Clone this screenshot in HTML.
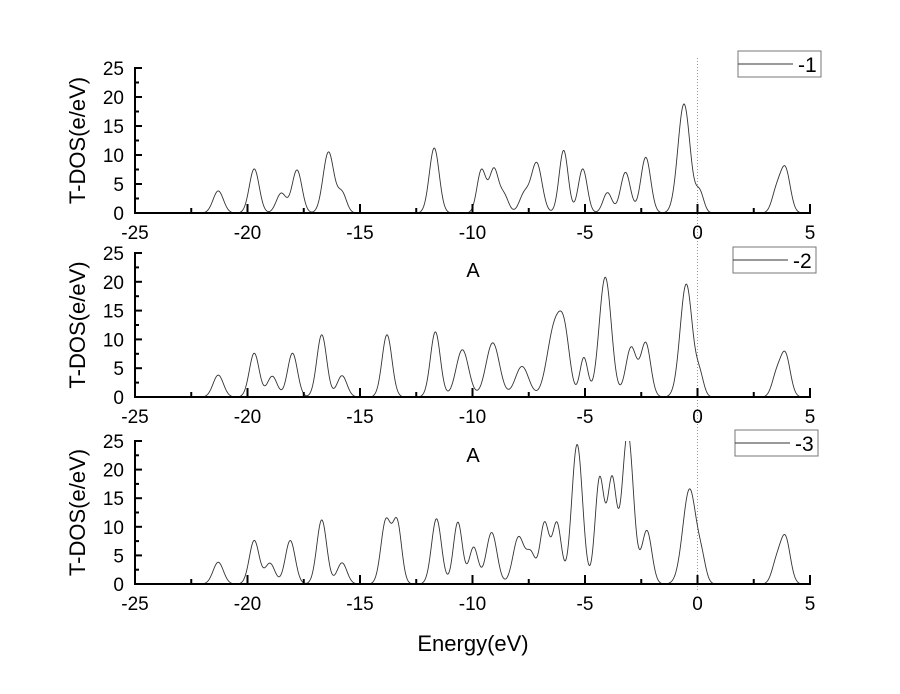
<!DOCTYPE html>
<html><head><meta charset="utf-8"><style>
body{margin:0;background:#fff}
svg text{font-family:"Liberation Sans",Arial,sans-serif;fill:#000}
</style></head><body>
<svg id="chart" width="900" height="689" viewBox="0 0 900 689" xmlns="http://www.w3.org/2000/svg">
<rect x="0" y="0" width="900" height="689" fill="#fff"/>
<g id="layer"></g>
</svg>
<script>
const xTicks=[-25,-20,-15,-10,-5,0,5];
const yTicks=[0,5,10,15,20,25];
const legendLabels=["-1","-2","-3"];
// peak centers (eV), heights (e/eV), widths (eV) for each panel
const p1Centers=[-21.3,-19.7,-18.5,-17.8,-16.4,-15.8,-11.7,-9.6,-9.05,-8.6,-7.7,-7.15,-5.95,-5.1,-4.0,-3.2,-2.3,-0.6,0.1,3.5,3.9];
const p1Heights=[3.8,7.6,3.4,7.4,10.5,3.4,11.2,7.4,7.4,3.0,3.2,8.6,10.8,7.6,3.5,7.0,9.6,18.8,3.5,3.5,7.6];
const p1Widths=[0.23,0.22,0.22,0.22,0.24,0.2,0.22,0.2,0.2,0.2,0.22,0.24,0.2,0.2,0.2,0.22,0.22,0.27,0.18,0.2,0.22];
const p2Centers=[-21.3,-19.7,-18.9,-18.0,-16.7,-15.8,-13.8,-11.65,-10.45,-9.1,-7.8,-6.35,-5.9,-5.05,-4.1,-2.95,-2.3,-0.5,0.1,3.5,3.9];
const p2Heights=[3.8,7.6,3.6,7.6,10.8,3.7,10.8,11.3,8.2,9.4,5.3,12.0,8.4,6.8,20.8,8.6,9.3,19.6,3.5,3.5,7.4];
const p2Widths=[0.23,0.22,0.22,0.22,0.22,0.22,0.22,0.22,0.28,0.3,0.3,0.33,0.24,0.18,0.27,0.24,0.22,0.27,0.18,0.2,0.22];
const p3Centers=[-21.3,-19.7,-19.0,-18.1,-16.7,-15.8,-13.85,-13.35,-11.6,-10.65,-9.95,-9.15,-7.95,-7.4,-6.8,-6.25,-5.35,-4.35,-3.8,-3.1,-2.25,-0.35,0.2,3.5,3.9];
const p3Heights=[3.8,7.6,3.6,7.6,11.2,3.7,11.0,10.6,11.4,10.8,6.4,9.0,8.2,5.0,10.6,10.6,24.4,18.4,18.0,26.5,9.3,16.6,3.2,3.5,8.1];
const p3Widths=[0.23,0.22,0.22,0.22,0.22,0.22,0.22,0.2,0.22,0.2,0.2,0.24,0.25,0.2,0.2,0.2,0.24,0.2,0.2,0.25,0.22,0.3,0.18,0.2,0.22];

const panels=[
 {c:p1Centers,h:p1Heights,w:p1Widths,top:68,bot:213,leg:[738,51]},
 {c:p2Centers,h:p2Heights,w:p2Widths,top:253,bot:397,leg:[733,247]},
 {c:p3Centers,h:p3Heights,w:p3Widths,top:441,bot:584,leg:[735,430]}
];
const NS="http://www.w3.org/2000/svg";
const layer=document.getElementById('layer');
const X0=135,X1=810,xMin=-25,xMax=5;
function xs(v){return X0+(v-xMin)/(xMax-xMin)*(X1-X0);}
function mk(t,a,parent){const e=document.createElementNS(NS,t);for(const k in a)e.setAttribute(k,a[k]);(parent||layer).appendChild(e);return e;}

const fl=mk('line',{x1:xs(0),x2:xs(0),y1:58,y2:592,stroke:'#999','stroke-width':1,'stroke-dasharray':'1,2'});



panels.forEach((p,i)=>{
 const ys=v=>p.bot-(v/25)*(p.bot-p.top);
 const g=mk('g',{});
 
 
 const cp=mk('clipPath',{id:'cp'+i},g);
 mk('rect',{x:X0,y:p.top,width:X1-X0,height:p.bot-p.top},cp);
 let d='';
 for(let E=xMin;E<=xMax+1e-9;E+=0.02){
  let s=0;
  for(let k=0;k<p.c.length;k++){const z=(E-p.c[k])/p.w[k];s+=p.h[k]*Math.exp(-0.5*z*z);}
  d+=(d?'L':'M')+xs(E).toFixed(2)+','+ys(s).toFixed(2);
 }
 const path=mk('path',{d:d,fill:'none',stroke:'#333','stroke-width':0.9,'clip-path':'url(#cp'+i+')'},g);
 
 
 const xa=mk('line',{x1:X0-1,x2:X1+1,y1:p.bot,y2:p.bot,stroke:'#000','stroke-width':2},g);
 
 
 const ya=mk('line',{x1:X0,x2:X0,y1:p.top-1,y2:p.bot+1,stroke:'#000','stroke-width':2},g);
 
 
 for(let j=0;j<xTicks.length;j++){
  const v=xTicks[j];
  mk('line',{x1:xs(v),x2:xs(v),y1:p.bot,y2:p.bot-9,stroke:'#000','stroke-width':2},g);
  if(j<xTicks.length-1) mk('line',{x1:xs(v+2.5),x2:xs(v+2.5),y1:p.bot,y2:p.bot-5,stroke:'#000','stroke-width':2},g);
  const t=mk('text',{x:xs(v),y:p.bot+26,'text-anchor':'middle','font-size':19},g);
  t.textContent=v;
  
  
 }
 for(let j=0;j<yTicks.length;j++){
  const v=yTicks[j];
  mk('line',{x1:X0,x2:X0+7,y1:ys(v),y2:ys(v),stroke:'#000','stroke-width':2},g);
  if(j<yTicks.length-1) mk('line',{x1:X0,x2:X0+4,y1:ys(v+2.5),y2:ys(v+2.5),stroke:'#000','stroke-width':2},g);
  const t=mk('text',{x:124,y:ys(v)+7,'text-anchor':'end','font-size':19},g);
  t.textContent=v;
  
  
 }
 const yt=mk('text',{x:0,y:0,'text-anchor':'middle','font-size':22,transform:'translate(85,'+((p.top+p.bot)/2)+') rotate(-90)'},g);
 yt.textContent='T-DOS(e/eV)';
 
 
 const lg=mk('g',{},g);
 
 
 const lx=p.leg[0],ly=p.leg[1];
 mk('rect',{x:lx,y:ly,width:83,height:26,fill:'#fff',stroke:'#777','stroke-width':1},lg);
 mk('line',{x1:lx,x2:lx+55,y1:ly+13,y2:ly+13,stroke:'#333','stroke-width':1},lg);
 const lt=mk('text',{x:lx+60,y:ly+21,'font-size':21},lg);
 lt.textContent=legendLabels[i];
});
[277,462].forEach(y=>{
 const a=mk('text',{x:473,y:y,'text-anchor':'middle','font-size':20});
 a.textContent='A';
 
 
});
const xt=mk('text',{x:473,y:651,'text-anchor':'middle','font-size':22});
xt.textContent='Energy(eV)';


</script>
</body></html>
